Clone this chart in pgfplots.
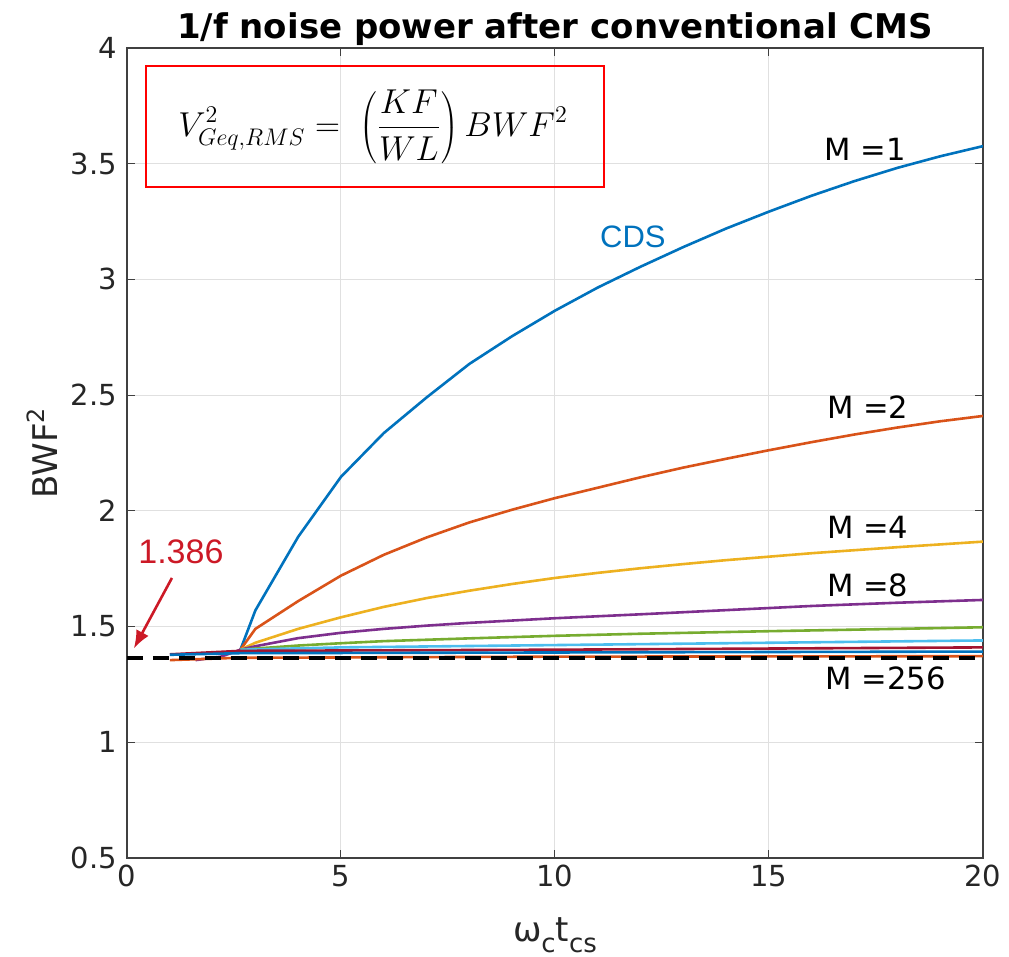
\documentclass[border=0pt]{standalone}
\usepackage{fontspec}
\setmainfont{DejaVu Sans}
\newfontfamily\lib{Liberation Sans}
\usepackage{pgfplots}
\pgfplotsset{compat=1.18}
\usetikzlibrary{arrows.meta}
\definecolor{mblue}{rgb}{0,0.447,0.741}
\definecolor{morange}{rgb}{0.85,0.325,0.098}
\definecolor{myellow}{rgb}{0.929,0.694,0.125}
\definecolor{mpurple}{rgb}{0.494,0.184,0.556}
\definecolor{mgreen}{rgb}{0.466,0.674,0.188}
\definecolor{mcyan}{rgb}{0.301,0.745,0.933}
\definecolor{mred}{rgb}{0.635,0.078,0.184}
\definecolor{annred}{rgb}{0.8,0.1,0.15}
\begin{document}
\begin{tikzpicture}
\useasboundingbox (-63.5pt,-49.5pt) rectangle (441pt,429pt);
\begin{axis}[
  at={(0,0)}, anchor=south west,
  scale only axis, width=428pt, height=405pt,
  xmin=0, xmax=20, ymin=0.5, ymax=4,
  xtick={0,5,10,15,20}, ytick={0.5,1,1.5,2,2.5,3,3.5,4},
  grid=major, grid style={black!12, line width=0.5pt},
  axis line style={black!75, line width=0.6pt},
  tick align=inside, tick style={black!75, line width=0.5pt},
  major tick length=4pt,
  ticklabel style={font=\fontsize{14.5}{16}\selectfont, text=black!85},
  yticklabel style={xshift=-1.5pt},
  /pgf/number format/assume math mode=true,
  title={1/f noise power after conventional CMS},
  title style={font=\bfseries\fontsize{17}{19}\selectfont, yshift=-8.5pt},
  xlabel={ω\raisebox{-0.6ex}{\fontsize{13}{15}\selectfont c}t\raisebox{-0.6ex}{\fontsize{13}{15}\selectfont cs}},
  xlabel style={font=\fontsize{17}{19}\selectfont, text=black!85, at={(axis description cs:0.5,-0.095)}, anchor=center},
  ylabel={BWF\textsuperscript{2}},
  ylabel style={font=\fontsize{17}{19}\selectfont, text=black!85, at={(axis description cs:-0.099,0.5)}, anchor=center},
  every axis plot/.append style={line width=1.3pt},
  clip=true,
]
% M=1
\addplot[mblue] coordinates {(2.65,1.40) (3,1.57) (4,1.888) (5,2.147) (6,2.336) (7,2.49) (8,2.635) (9,2.755) (10,2.865) (11,2.965) (12,3.055) (13,3.14) (14,3.22) (15,3.293) (16,3.362) (17,3.425) (18,3.482) (19,3.532) (20,3.576)};
% M=2
\addplot[morange] coordinates {(2.65,1.40) (3,1.49) (4,1.61) (5,1.72) (6,1.81) (7,1.885) (8,1.95) (9,2.005) (10,2.055) (11,2.10) (12,2.145) (13,2.187) (14,2.225) (15,2.262) (16,2.297) (17,2.33) (18,2.36) (19,2.387) (20,2.41)};
% M=4
\addplot[myellow] coordinates {(2.65,1.40) (3,1.43) (4,1.49) (5,1.54) (6,1.585) (7,1.623) (8,1.655) (9,1.684) (10,1.71) (11,1.732) (12,1.752) (13,1.77) (14,1.787) (15,1.802) (16,1.817) (17,1.83) (18,1.843) (19,1.855) (20,1.867)};
% M=8
\addplot[mpurple] coordinates {(1.6,1.355) (2.2,1.37) (2.65,1.40) (3,1.415) (4,1.45) (5,1.473) (6,1.49) (7,1.504) (8,1.516) (9,1.526) (10,1.536) (12,1.553) (14,1.571) (16,1.589) (18,1.603) (20,1.615)};
% M=16
\addplot[mgreen] coordinates {(2.65,1.40) (3,1.405) (4,1.418) (5,1.428) (6,1.437) (8,1.449) (10,1.46) (12,1.469) (15,1.48) (18,1.49) (20,1.497)};
% M=32
\addplot[mcyan] coordinates {(2.65,1.40) (5,1.41) (10,1.42) (15,1.43) (20,1.44)};
% M=64
\addplot[mred] coordinates {(1,1.38) (2.65,1.395) (10,1.40) (20,1.41)};
% M=128
\addplot[mblue] coordinates {(1,1.378) (2.65,1.385) (10,1.388) (20,1.392)};
% M=256
\addplot[morange] coordinates {(1,1.355) (2.6,1.365) (10,1.37) (20,1.372)};
% asymptote
\addplot[black, line width=2pt, dash pattern=on 8pt off 5pt] coordinates {(0,1.365) (20,1.365)};

\draw[red, line width=1.2pt] (axis cs:0.444,3.922) rectangle (axis cs:11.14,3.399);
\node[font=\fontsize{17.3}{20}\selectfont] at (axis cs:5.75,3.66) {$\displaystyle V^2_{Geq,RMS} =\; \left(\frac{KF}{WL}\right) BWF^2$};

\node[font=\fontsize{15.3}{17}\selectfont] at (axis cs:17.24,3.56) {M =1};
\node[font=\fontsize{15.3}{17}\selectfont] at (axis cs:17.31,2.449) {M =2};
\node[font=\fontsize{15.3}{17}\selectfont] at (axis cs:17.31,1.93) {M =4};
\node[font=\fontsize{15.3}{17}\selectfont] at (axis cs:17.31,1.68) {M =8};
\node[font=\fontsize{15.3}{17}\selectfont] at (axis cs:17.73,1.277) {M =256};
\node[font=\lib\fontsize{15.5}{17}\selectfont, text=mblue] at (axis cs:11.82,3.183) {CDS};
\node[font=\lib\fontsize{17}{19}\selectfont, text=annred] at (axis cs:1.26,1.822) {1.386};
\draw[annred, line width=1.3pt, -{Latex[length=9pt,width=7pt]}] (axis cs:1.05,1.71) -- (axis cs:0.16,1.405);
\end{axis}
\end{tikzpicture}
\end{document}
